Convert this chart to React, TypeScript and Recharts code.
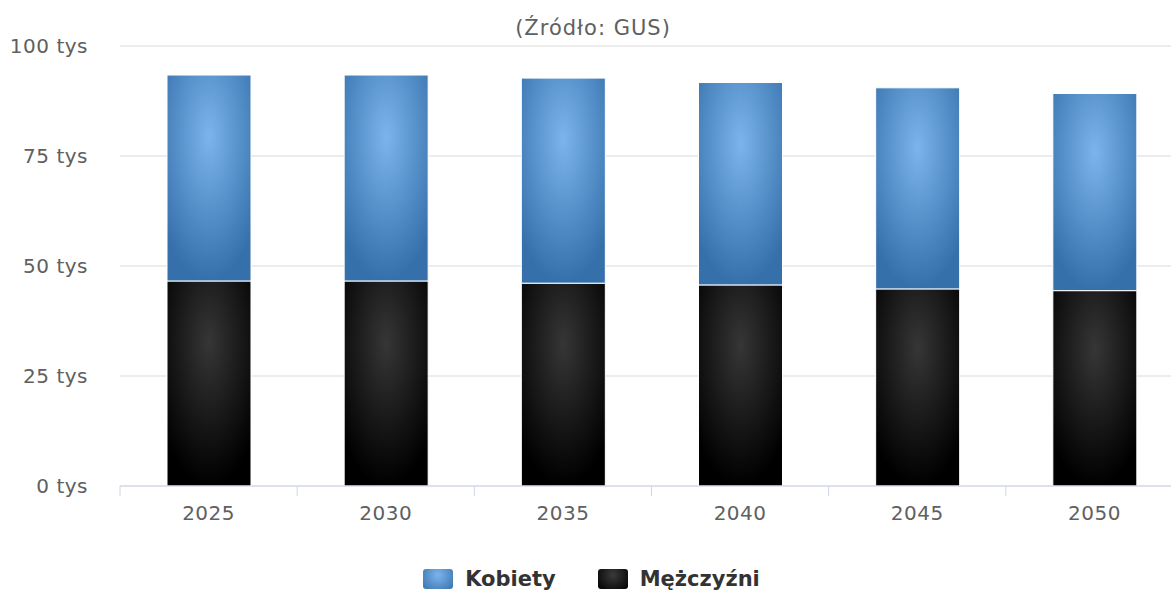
import { BarChart, Bar, XAxis, YAxis, CartesianGrid, Legend } from 'recharts';

const YEARS = ['2025', '2030', '2035', '2040', '2045', '2050'];
const KOBIETY = [46800, 46800, 46600, 46000, 45700, 44800];
const MEZCZYZNI = [46600, 46600, 46100, 45700, 44800, 44400];
const Y_TICKS = [0, 25000, 50000, 75000, 100000];

const CHART_W = 1195;
const CHART_H = 590;
const LEFT = 120;
const RIGHT = 12;
const HALF_BAND = (CHART_W - LEFT - RIGHT) / YEARS.length / 2;

const FONT = '"DejaVu Sans", Verdana, sans-serif';
const LABEL_COLOR = '#606060';

const data = YEARS.map((year, i) => ({
  year,
  kobiety: KOBIETY[i],
  mezczyzni: MEZCZYZNI[i],
}));

function XTick({ x, y, payload }: any) {
  return (
    <g>
      <line x1={x - HALF_BAND} y1={y} x2={x - HALF_BAND} y2={y + 10} stroke="#ccd6eb" strokeWidth={1} />
      <text x={x} y={y + 34} textAnchor="middle" fill={LABEL_COLOR} fontSize={20} fontFamily={FONT} letterSpacing={0.5}>
        {payload.value}
      </text>
    </g>
  );
}

function LegendBox() {
  const items = [
    { name: 'Kobiety', swatch: 'radial-gradient(circle at 50% 30%, #7cb5ec, #3a72ad)' },
    { name: 'Mężczyźni', swatch: 'radial-gradient(circle at 50% 30%, #3a3a3a, #000)' },
  ];
  return (
    <div
      style={{
        height: 44,
        boxSizing: 'border-box',
        paddingTop: 22,
        display: 'flex',
        justifyContent: 'center',
        gap: 42,
        fontFamily: FONT,
      }}
    >
      {items.map((it) => (
        <div key={it.name} style={{ display: 'flex', alignItems: 'center', gap: 12 }}>
          <span style={{ display: 'inline-block', width: 30, height: 20, borderRadius: 3, background: it.swatch }} />
          <span style={{ fontSize: 21, fontWeight: 'bold', color: '#333', lineHeight: '22px' }}>{it.name}</span>
        </div>
      ))}
    </div>
  );
}

export default function App() {
  return (
    <div style={{ position: 'absolute', left: 0, top: 0, width: 1171, height: 590, overflow: 'hidden', background: '#fff' }}>
      <div
        style={{
          position: 'absolute',
          top: 16,
          left: 0,
          width: 1186,
          textAlign: 'center',
          fontFamily: FONT,
          fontSize: 21,
          letterSpacing: 1,
          lineHeight: '24px',
          color: LABEL_COLOR,
          zIndex: 2,
        }}
      >
        (Źródło: GUS)
      </div>
      <BarChart
        width={CHART_W}
        height={CHART_H}
        data={data}
        margin={{ top: 46, right: RIGHT, bottom: 0, left: 0 }}
      >
        <defs>
          <radialGradient id="gradBlue" cx="0.5" cy="0.3" r="0.7">
            <stop offset="0%" stopColor="#7cb5ec" />
            <stop offset="100%" stopColor="#3570ab" />
          </radialGradient>
          <radialGradient id="gradBlack" cx="0.5" cy="0.3" r="0.7">
            <stop offset="0%" stopColor="#363636" />
            <stop offset="100%" stopColor="#000000" />
          </radialGradient>
        </defs>
        <CartesianGrid vertical={false} stroke="#d9d9d9" />
        <XAxis
          dataKey="year"
          height={60}
          axisLine={{ stroke: '#ccd6eb' }}
          tickLine={false}
          tickSize={0}
          tickMargin={0}
          tick={<XTick />}
          interval={0}
        />
        <YAxis
          width={LEFT}
          domain={[0, 100000]}
          ticks={Y_TICKS}
          axisLine={false}
          tickLine={false}
          tickSize={0}
          tickMargin={32}
          tickFormatter={(v: number) => `${v / 1000} tys`}
          tick={{ fill: LABEL_COLOR, fontSize: 20, fontFamily: FONT, letterSpacing: 0.5 }}
        />
        <Legend verticalAlign="bottom" content={<LegendBox />} />
        <Bar dataKey="mezczyzni" name="Mężczyźni" stackId="a" barSize={84} fill="url(#gradBlack)" stroke="#fff" strokeWidth={1} isAnimationActive={false} />
        <Bar dataKey="kobiety" name="Kobiety" stackId="a" barSize={84} fill="url(#gradBlue)" stroke="#fff" strokeWidth={1} isAnimationActive={false} />
      </BarChart>
    </div>
  );
}
